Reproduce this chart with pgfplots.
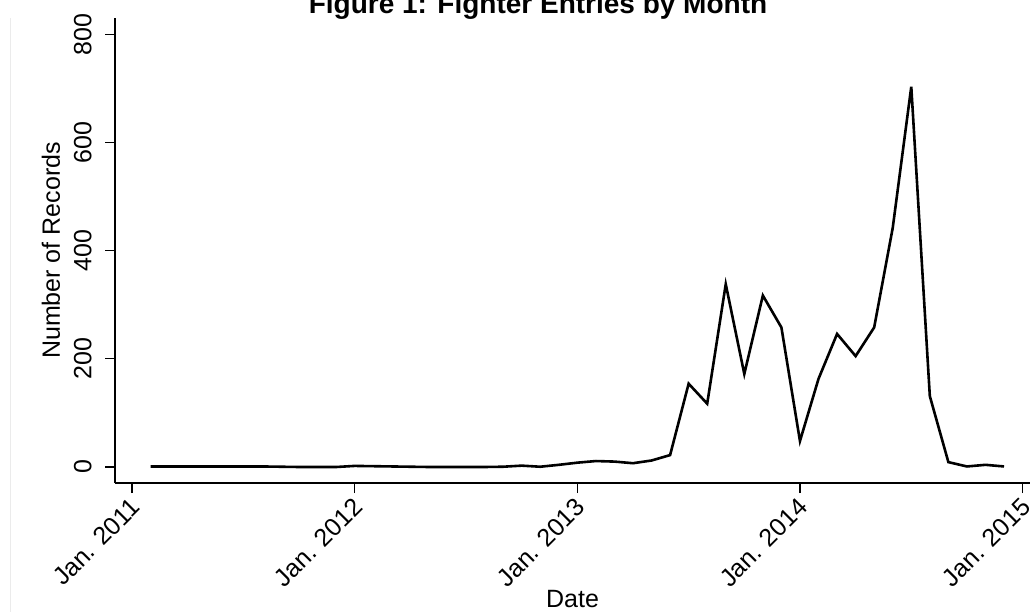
\documentclass[border=0pt]{standalone}
\usepackage{fontspec}
\setmainfont{Liberation Sans}
\usepackage{pgfplots}
\pgfplotsset{compat=1.18}
\begin{document}
\begin{tikzpicture}
\draw[black!8, line width=0.5pt] (5pt,0pt) -- (5pt,297pt);
\begin{axis}[
  at={(57.5pt,64.5pt)}, anchor=south west,
  scale only axis, width=457.5pt, height=232.5pt,
  xmin=-0.92, xmax=48.4, ymin=-29.6, ymax=830,
  axis x line*=bottom, axis y line*=left,
  axis line style={line width=0.6pt, -},
  tick align=outside, major tick length=5pt,
  tick style={black, line width=0.6pt},
  xtick={0,12,24,36,48},
  xticklabels={Jan. 2011, Jan. 2012, Jan. 2013, Jan. 2014, Jan. 2015},
  ytick={0,200,400,600,800},
  minor tick num=0,
  /pgf/number format/assume math mode=true,
  xticklabel style={yshift=-1.5pt, xshift=-1.5pt, rotate=45, anchor=north east, font=\fontsize{12.5}{15}\selectfont, inner sep=0pt},
  yticklabel style={xshift=-6.5pt, rotate=90, anchor=south, font=\fontsize{12.5}{15}\selectfont, inner sep=0pt},
  xlabel={Date}, ylabel={Number of Records},
  xlabel style={at={(axis description cs:0.5,-0.267)}, anchor=base, font=\fontsize{12.5}{15}\selectfont},
  ylabel style={at={(axis description cs:-0.07,0.5)}, anchor=center, font=\fontsize{12.5}{15}\selectfont},
]
\addplot[black, line width=1.3pt, mark=none] coordinates {
(1,1) (2,1) (3,1) (4,1) (5,1) (6,1) (7,1) (8,0.5) (9,0) (10,0) (11,0)
(12,2) (13,1.5) (14,1) (15,0.5) (16,0) (17,0) (18,0) (19,0) (20,0.5)
(21,2.5) (22,0.5) (23,4) (24,8) (25,11) (26,10) (27,7) (28,12) (29,22)
(30,154) (31,117) (32,338) (33,172) (34,317) (35,258) (36,48) (37,163)
(38,246) (39,205) (40,258) (41,442) (42,703) (43,131) (44,9) (45,1)
(46,4) (47,1)
};
\end{axis}
\node[font=\bfseries\fontsize{14}{16}\selectfont, anchor=base] at (269pt,299pt) {Figure 1: Fighter Entries by Month};
\pgfresetboundingbox
\path[use as bounding box] (0pt,0pt) rectangle (515.5pt,306pt);
\end{tikzpicture}
\end{document}
